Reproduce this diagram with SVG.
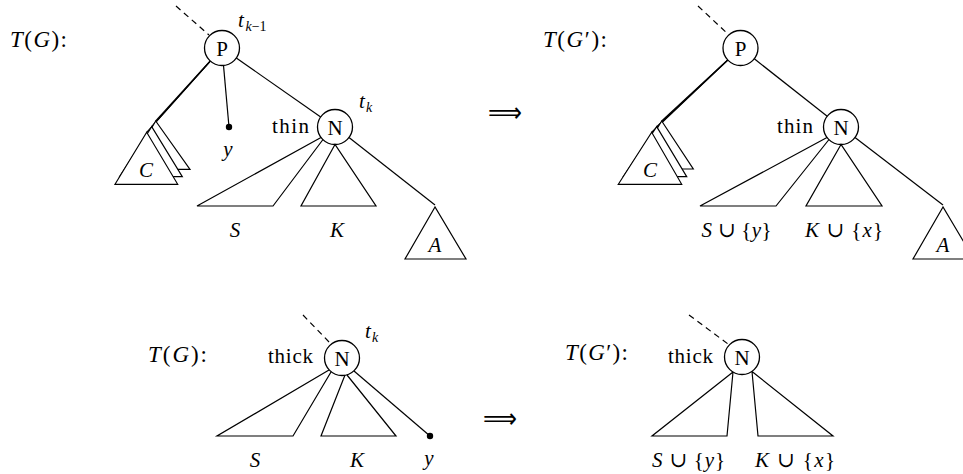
<svg xmlns="http://www.w3.org/2000/svg" width="963" height="474" viewBox="0 0 963 474" font-family="'Liberation Serif', 'DejaVu Serif', serif">
<style>
  .ln{stroke:#000;stroke-width:1.2;fill:none}
  .dash{stroke:#000;stroke-width:1.2;fill:none;stroke-dasharray:6 4.5}
  .tri{stroke:#000;stroke-width:1.2;fill:#fff;stroke-linejoin:miter}
  .nd{stroke:#000;stroke-width:1.3;fill:#fff}
  text{font-family:'Liberation Serif','DejaVu Serif',serif;font-size:21px;fill:#000}
  .it{font-style:italic}
  .c{text-anchor:middle}
  .sub{font-size:14px}
  .big{font-size:23px}
  .arr{font-family:'DejaVu Sans',sans-serif;font-size:28px}
</style>

<!-- ===== Top-left tree ===== -->
<g id="label-TG-1"><text class="big" x="10" y="47" textLength="57" lengthAdjust="spacing"><tspan class="it">T</tspan>(<tspan class="it">G</tspan>):</text></g>

<g id="connectors">
  <!-- top-left -->
  <line class="dash" x1="176" y1="6" x2="209" y2="35"/>
  <line class="ln" x1="236.3" y1="58" x2="320.7" y2="117"/>
  <line class="ln" x1="223.5" y1="65.4" x2="229" y2="127"/>
  <line class="ln" x1="210.3" y1="61.1" x2="146.7" y2="132.3"/>
  <line class="ln" x1="210.3" y1="61.1" x2="151.7" y2="126.7"/>
  <line class="ln" x1="210.2" y1="61" x2="155.7" y2="121"/>
  <line class="ln" x1="349" y1="137.5" x2="435" y2="205"/>
  <!-- top-right -->
  <line class="dash" x1="698" y1="6" x2="729" y2="35"/>
  <line class="ln" x1="754.3" y1="58.8" x2="827.2" y2="116.2"/>
  <line class="ln" x1="727.8" y1="60.1" x2="651.7" y2="132.3"/>
  <line class="ln" x1="727.8" y1="60" x2="656.7" y2="126.7"/>
  <line class="ln" x1="727.7" y1="59.9" x2="661.7" y2="121"/>
  <line class="ln" x1="855" y1="137.5" x2="943" y2="205"/>
  <!-- bottom-left -->
  <line class="dash" x1="303" y1="315" x2="330" y2="343"/>
  <line class="ln" x1="354" y1="371" x2="430" y2="436"/>
  <!-- bottom-right -->
  <line class="dash" x1="689" y1="315" x2="728" y2="344"/>
</g>

<g id="node-P-1">
  <circle class="nd" cx="222" cy="48" r="17.5"/>
  <text class="c" x="222" y="55.5">P</text>
  <text x="238" y="27" class="it">t</text><text x="245.5" y="31" class="sub"><tspan class="it">k</tspan>−1</text>
</g>

<g id="leaf-y-1">
  <circle cx="229" cy="127" r="3.2" fill="#000"/>
  <text class="c it" x="228" y="156">y</text>
</g>

<g id="subtree-C-1">
  <polygon class="tri" points="155.7,121 127.3,169.3 190,169.3"/>
  <polygon class="tri" points="151.7,126.7 119.6,176.7 182.3,176.7"/>
  <polygon class="tri" points="146.7,132.3 115,184.3 177.7,184.3"/>
  <text class="c it" x="146" y="177">C</text>
</g>

<g id="node-N-1">
  <circle class="nd" cx="335" cy="127" r="17.5"/>
  <text class="c" x="335" y="134.5">N</text>
  <text x="272" y="132.5" textLength="37" lengthAdjust="spacing">thin</text>
  <text x="359" y="108" class="it">t</text><text x="366" y="111.5" class="sub it">k</text>
</g>

<g id="subtree-S-1">
  <polyline class="ln" points="321,137.5 197,206 273,206 323,139.5"/>
  <text class="c it" x="235" y="237">S</text>
</g>
<g id="subtree-K-1">
  <polygon class="ln" points="335,144.5 301,206 376,206"/>
  <text class="c it" x="337" y="237">K</text>
</g>
<g id="subtree-A-1">
  <polygon class="tri" points="435,207 405,259 466,259"/>
  <text class="c it" x="435" y="252">A</text>
</g>

<g id="arrow-1"><text class="arr" x="488" y="122" textLength="34" lengthAdjust="spacingAndGlyphs">⟹</text></g>

<!-- ===== Top-right tree ===== -->
<g id="label-TG-2"><text class="big" x="543" y="47" textLength="64" lengthAdjust="spacing"><tspan class="it">T</tspan>(<tspan class="it">G</tspan>′):</text></g>

<g id="node-P-2">
  <circle class="nd" cx="740.5" cy="48" r="17.5"/>
  <text class="c" x="740.5" y="55.5">P</text>
</g>

<g id="subtree-C-2">
  <polygon class="tri" points="661.7,121 632.3,169 693.3,169"/>
  <polygon class="tri" points="656.7,126.7 623.3,176.7 686.7,176.7"/>
  <polygon class="tri" points="651.7,132.3 618.3,184.3 681.7,184.3"/>
  <text class="c it" x="650" y="177">C</text>
</g>

<g id="node-N-2">
  <circle class="nd" cx="841" cy="127" r="17.5"/>
  <text class="c" x="841" y="134.5">N</text>
  <text x="777" y="132.5" textLength="36" lengthAdjust="spacing">thin</text>
</g>

<g id="subtree-S-2">
  <polyline class="ln" points="827,137.5 700,206 776,206 829,139.5"/>
  <text x="701.5" y="237" textLength="70" lengthAdjust="spacing"><tspan class="it">S</tspan> ∪ {<tspan class="it">y</tspan>}</text>
</g>
<g id="subtree-K-2">
  <polygon class="ln" points="841,144.5 806,206 882,206"/>
  <text x="805" y="237" textLength="78" lengthAdjust="spacing"><tspan class="it">K</tspan> ∪ {<tspan class="it">x</tspan>}</text>
</g>
<g id="subtree-A-2">
  <polygon class="tri" points="943,207 913,259 974,259"/>
  <text class="c it" x="943" y="252">A</text>
</g>

<!-- ===== Bottom-left tree ===== -->
<g id="label-TG-3"><text class="big" x="148" y="362" textLength="59" lengthAdjust="spacing"><tspan class="it">T</tspan>(<tspan class="it">G</tspan>):</text></g>

<g id="node-N-3">
  <circle class="nd" cx="342" cy="358" r="17.5"/>
  <text class="c" x="342" y="365.5">N</text>
  <text x="268" y="363" textLength="45" lengthAdjust="spacing">thick</text>
  <text x="365" y="338" class="it">t</text><text x="372" y="341.5" class="sub it">k</text>
</g>
<g id="subtree-S-3">
  <polyline class="ln" points="329,370 217,436 293,436 331,372"/>
  <text class="c it" x="255" y="467">S</text>
</g>
<g id="subtree-K-3">
  <polyline class="ln" points="345,375 321,436 396,436 347,375"/>
  <text class="c it" x="357" y="467">K</text>
</g>
<g id="leaf-y-3">
  <circle cx="430" cy="436" r="3.2" fill="#000"/>
  <text class="c it" x="429" y="465">y</text>
</g>

<g id="arrow-2"><text class="arr" x="483" y="428" textLength="34" lengthAdjust="spacingAndGlyphs">⟹</text></g>

<!-- ===== Bottom-right tree ===== -->
<g id="label-TG-4"><text class="big" x="565" y="360" textLength="63" lengthAdjust="spacing"><tspan class="it">T</tspan>(<tspan class="it">G</tspan>′):</text></g>

<g id="node-N-4">
  <circle class="nd" cx="742" cy="357" r="17.5"/>
  <text class="c" x="742" y="364.5">N</text>
  <text x="668" y="363" textLength="45" lengthAdjust="spacing">thick</text>
</g>
<g id="subtree-S-4">
  <polyline class="ln" points="733,372 652,436 727,436 733,372"/>
  <text x="652" y="467" textLength="73" lengthAdjust="spacing"><tspan class="it">S</tspan> ∪ {<tspan class="it">y</tspan>}</text>
</g>
<g id="subtree-K-4">
  <polyline class="ln" points="752,371.5 758,436 833,436 752,371.5"/>
  <text x="755" y="467" textLength="80" lengthAdjust="spacing"><tspan class="it">K</tspan> ∪ {<tspan class="it">x</tspan>}</text>
</g>
</svg>
